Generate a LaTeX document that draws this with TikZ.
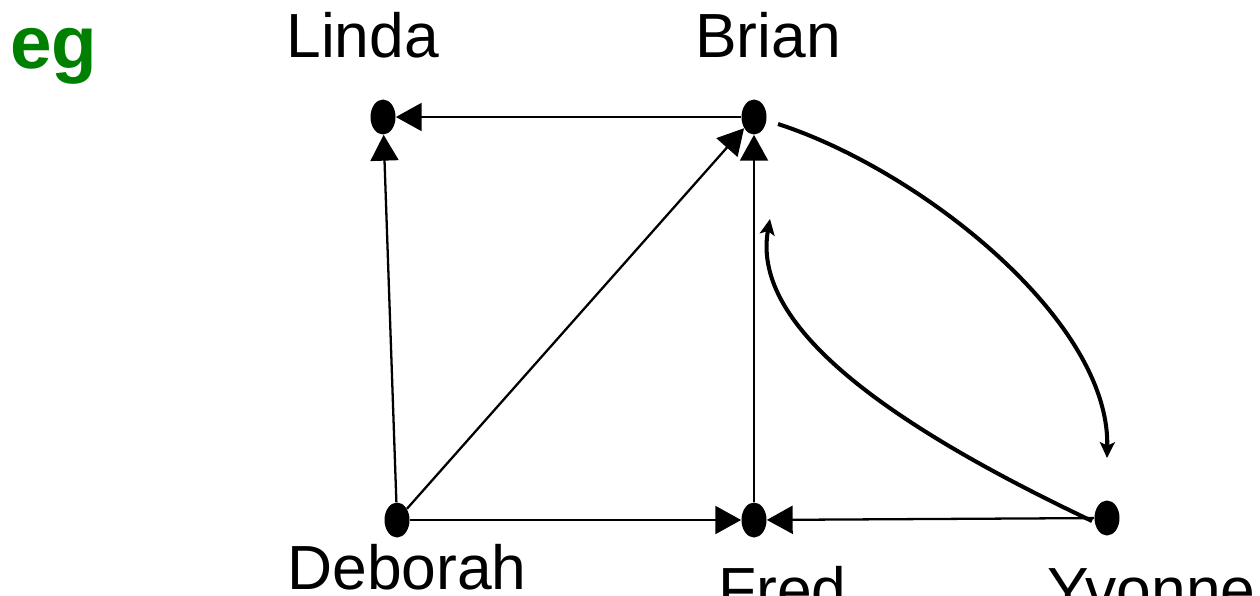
\documentclass[tikz,border=0pt]{standalone}
\usepackage{fontspec}
\setmainfont{Liberation Sans}
\usepackage{xcolor}
\usetikzlibrary{shapes.geometric,arrows.meta}
\definecolor{egreen}{RGB}{0,128,0}
\tikzset{vtx/.style={ellipse,fill=black,inner sep=0pt,minimum width=0.5cm,minimum height=0.7cm},
         lbl/.style={anchor=base west,inner sep=0pt,font=\fontsize{35.5}{40}\selectfont},
         arc/.style={line width=1.3pt,-{Triangle[length=14.7pt,width=15.9pt]}},
         curvy/.style={line width=2.3pt,-{Stealth[length=9pt,width=8.5pt,inset=2pt]}}}
\begin{document}
\begin{tikzpicture}[x=0.02cm,y=-0.02cm]
\useasboundingbox (0,0) rectangle (1260,595);
\node [anchor=base west,inner sep=0pt,text=egreen,font=\fontsize{42.5}{46}\selectfont\bfseries] (eg) at (10,68) {eg};
% people
\node [vtx] (linda) at (383,117) {};
\node [vtx] (brian) at (754,117) {};
\node [vtx] (deborah) at (397,520) {};
\node [vtx] (fred) at (754,520) {};
\node [vtx] (yvonne) at (1107,518) {};
\node [lbl] (tlinda) at (286,57) {Linda};
\node [lbl] (tbrian) at (695,57) {Brian};
\node [lbl] (tdeborah) at (287,589) {Deborah};
\node [lbl] (tfred) at (718,611) {Fred};
\node [lbl] (tyvonne) at (1047,611) {Yvonne};
% straight edges
\draw [arc] (brian) -- (linda);
\draw [arc] (deborah) -- (linda);
\draw [arc] (deborah) -- (brian);
\draw [arc] (fred) -- (brian);
\draw [arc] (deborah) -- (fred);
\draw [arc] (yvonne) -- (fred);
% curved ones
\coordinate (bout) at (778,124);
\coordinate (yin) at (1107,458);
\coordinate (yout) at (1092,521);
\coordinate (fin) at (770,219);
\draw [curvy] (bout) .. controls (920,170) and (1110,320) .. (yin);
\draw [curvy] (yout) .. controls (900,430) and (750,330) .. (fin);
\end{tikzpicture}
\end{document}
